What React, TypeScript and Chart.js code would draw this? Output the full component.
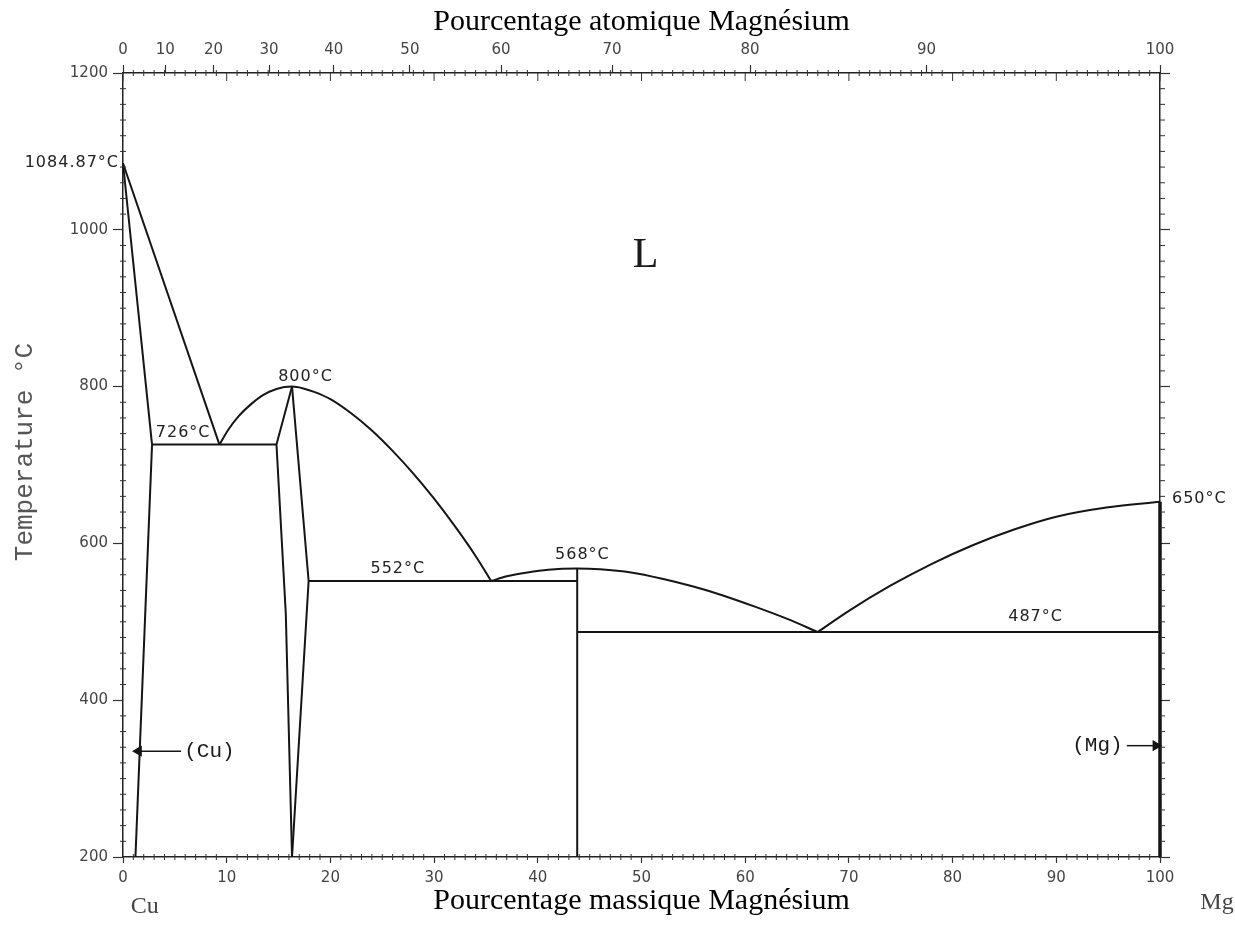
import React, { useEffect, useRef } from 'react';
import { Chart, registerables } from 'chart.js';

Chart.register(...registerables);

// ---- axes ----
const MASS_TICKS = [0, 10, 20, 30, 40, 50, 60, 70, 80, 90, 100];
const ATOMIC_TICKS = [0, 10, 20, 30, 40, 50, 60, 70, 80, 90, 100];
const TEMP_TICKS = [200, 400, 600, 800, 1000, 1200];
const MASS_MINOR_STEP = 1;
const TEMP_MINOR_STEP = 20;
const MG_ATOMIC_MASS = 24.305;
const CU_ATOMIC_MASS = 63.546;

// ---- phase boundaries: [wt% Mg, °C] ----
const cuLiquidus = [[0, 1084.87], [9.3, 726]];
const cuSolidus = [[0, 1084.87], [2.8, 726]];
const cuSolvus = [[2.8, 726], [1.2, 200]];
const eutectic726 = [[2.8, 726], [14.8, 726]];
const liquidusCu2Mg = [
  [9.3, 726], [10.2, 746], [11.2, 763], [12.3, 777], [13.5, 789], [14.8, 797], [16.3, 800],
  [17.3, 798], [18.5, 793], [20, 784], [22, 766], [24, 744], [26, 718], [28, 689],
  [30, 657], [32, 622], [34, 584], [35.5, 552],
];
const cu2MgLeft = [[16.3, 800], [14.8, 726], [15.7, 510], [16.3, 200]];
const cu2MgRight = [[16.3, 800], [17.9, 552], [16.3, 200]];
const eutectic552 = [[17.9, 552], [43.8, 552]];
const liquidusCuMg2 = [
  [35.5, 552], [37, 558], [39, 563], [41, 566.5], [43.8, 568], [46, 567], [49, 563],
  [52, 555], [55, 545], [58, 533], [61, 519], [64, 504], [67, 487],
];
const cuMg2Line = [[43.8, 568], [43.8, 200]];
const eutectic487 = [[43.8, 487], [100, 487]];
const liquidusMg = [
  [67, 487], [70, 514], [74, 546], [78, 574], [82, 598], [86, 618], [90, 634], [95, 646], [100, 653],
];
const mgSolidus = [[100, 653], [100, 200]];
const cuArrow = [[5.6, 335], [1.5, 335]];
const mgArrow = [[96.8, 342], [99.6, 342]];

// ---- annotations ----
const TEMP_LABELS = ['726°C', '800°C', '552°C', '568°C', '487°C'];
const TEMP_LABEL_X = [5.8, 17.6, 26.5, 44.3, 88.0];
const TEMP_LABEL_Y = [741, 813, 567, 586, 506];
const CU_MELT = 1084.87;
const MG_MELT_LABEL_Y = 657;
const PHASE_LABELS = ['(Cu)', '(Mg)'];
const PHASE_LABEL_X = [5.9, 96.4];
const PHASE_LABEL_Y = [335, 342];

const atomicToMass = (a: number) =>
  (100 * a * MG_ATOMIC_MASS) / (a * MG_ATOMIC_MASS + (100 - a) * CU_ATOMIC_MASS);

const toPts = (arr: number[][]) => arr.map(([x, y]) => ({ x, y }));
const LINE = '#151515';
const lineDs = (data: number[][], extra: any = {}) => ({
  data: toPts(data),
  showLine: true,
  pointRadius: 0,
  borderColor: LINE,
  backgroundColor: LINE,
  borderWidth: 2,
  tension: 0,
  clip: false,
  ...extra,
});
const curve = { cubicInterpolationMode: 'monotone' };

const decorPlugin = {
  id: 'decor',
  afterDraw(chart: any) {
    const { ctx, chartArea } = chart;
    const xs = chart.scales.x;
    const ys = chart.scales.y;
    const { left, right, top, bottom } = chartArea;
    ctx.save();
    ctx.strokeStyle = '#333';
    ctx.lineWidth = 1;
    const seg = (x1: number, y1: number, x2: number, y2: number) => {
      ctx.beginPath();
      ctx.moveTo(x1, y1);
      ctx.lineTo(x2, y2);
      ctx.stroke();
    };
    for (let v = 0; v <= 100; v += MASS_MINOR_STEP) {
      const px = xs.getPixelForValue(v);
      if (MASS_TICKS.includes(v)) {
        seg(px, top, px, top + 8);
      } else {
        seg(px, bottom - 3, px, bottom + 3);
        seg(px, top - 3, px, top + 3);
      }
    }
    for (let t = 200; t <= 1200; t += TEMP_MINOR_STEP) {
      if (TEMP_TICKS.includes(t)) continue;
      const py = ys.getPixelForValue(t);
      seg(left - 3, py, left + 3, py);
      seg(right, py, right + 5, py);
    }

    // axis title (left)
    ctx.save();
    ctx.translate(25, (top + bottom) / 2 - 13);
    ctx.rotate(-Math.PI / 2);
    ctx.font = '26px "Liberation Mono"';
    ctx.fillStyle = '#555';
    ctx.textAlign = 'center';
    ctx.textBaseline = 'middle';
    ctx.fillText('Temperature °C', 0, 0);
    ctx.restore();

    // temperature annotations
    ctx.fillStyle = '#222';
    ctx.font = '16px "DejaVu Sans"';
    (ctx as any).letterSpacing = '1px';
    ctx.textAlign = 'center';
    ctx.textBaseline = 'middle';
    TEMP_LABELS.forEach((t, i) => {
      ctx.fillText(t, xs.getPixelForValue(TEMP_LABEL_X[i]), ys.getPixelForValue(TEMP_LABEL_Y[i]));
    });
    ctx.textAlign = 'right';
    ctx.fillText('1084.87°C', left - 4, ys.getPixelForValue(CU_MELT));
    ctx.textAlign = 'left';
    ctx.fillText('650°C', right + 12, ys.getPixelForValue(MG_MELT_LABEL_Y));
    (ctx as any).letterSpacing = '0px';

    // phase labels
    ctx.font = '42px "Liberation Serif"';
    ctx.textAlign = 'center';
    ctx.fillStyle = '#1a1a1a';
    ctx.fillText('L', xs.getPixelForValue(50.4), ys.getPixelForValue(966));
    ctx.font = '21px "Liberation Mono"';
    ctx.textAlign = 'left';
    ctx.fillText(PHASE_LABELS[0], xs.getPixelForValue(PHASE_LABEL_X[0]), ys.getPixelForValue(PHASE_LABEL_Y[0]));
    ctx.textAlign = 'right';
    ctx.fillText(PHASE_LABELS[1], xs.getPixelForValue(PHASE_LABEL_X[1]), ys.getPixelForValue(PHASE_LABEL_Y[1]));

    // element labels
    ctx.font = '24px "Liberation Serif"';
    ctx.fillStyle = '#444';
    ctx.textAlign = 'center';
    ctx.fillText('Cu', xs.getPixelForValue(2.1), bottom + 50);
    ctx.fillText('Mg', xs.getPixelForValue(105.5), bottom + 46);
    ctx.restore();
  },
};

export default function App() {
  const ref = useRef<HTMLCanvasElement>(null);
  useEffect(() => {
    if (!ref.current) return;
    const tickFont = { family: '"DejaVu Sans"', size: 15 };
    const plain = (v: any) => String(v);
    const chart = new Chart(ref.current, {
      type: 'scatter',
      data: {
        datasets: [
          lineDs(cuLiquidus),
          lineDs(cuSolidus),
          lineDs(cuSolvus),
          lineDs(eutectic726),
          lineDs(liquidusCu2Mg, curve),
          lineDs(cu2MgLeft),
          lineDs(cu2MgRight),
          lineDs(eutectic552),
          lineDs(liquidusCuMg2, curve),
          lineDs(cuMg2Line),
          lineDs(eutectic487),
          lineDs(liquidusMg, curve),
          lineDs(mgSolidus, { borderWidth: 3.5 }),
          lineDs(cuArrow, { borderWidth: 1.5, pointRadius: [0, 5], pointStyle: 'triangle', pointRotation: 270 }),
          lineDs(mgArrow, { borderWidth: 1.5, pointRadius: [0, 5], pointStyle: 'triangle', pointRotation: 90 }),
        ] as any,
      },
      options: {
        animation: false,
        responsive: false,
        layout: { padding: 0 },
        plugins: { legend: { display: false }, tooltip: { enabled: false } },
        scales: {
          x: {
            type: 'linear',
            position: 'bottom',
            min: 0,
            max: 100,
            afterBuildTicks: (s: any) => { s.ticks = MASS_TICKS.map((v) => ({ value: v })); },
            afterFit: (s: any) => { s.height = 69; },
            ticks: { font: tickFont, color: '#444', padding: 6, maxRotation: 0, autoSkip: false, callback: plain },
            grid: { drawOnChartArea: false, tickLength: 6, color: '#333', tickWidth: 1.2 },
            border: { color: '#222', width: 1.5 },
            title: {
              display: true,
              text: 'Pourcentage massique Magnésium',
              color: '#000',
              font: { family: '"Liberation Serif"', size: 30 },
              padding: { top: 0, bottom: 7 },
            },
          },
          xTop: {
            type: 'linear',
            position: 'top',
            min: 0,
            max: 100,
            afterBuildTicks: (s: any) => { s.ticks = ATOMIC_TICKS.map((a) => ({ value: atomicToMass(a) })); },
            afterFit: (s: any) => { s.height = 73; },
            ticks: {
              font: tickFont,
              color: '#444',
              padding: 6,
              maxRotation: 0,
              autoSkip: false,
              callback: (_v: any, i: number) => String(ATOMIC_TICKS[i]),
            },
            grid: { drawOnChartArea: false, tickLength: 8, color: '#333', tickWidth: 1.2 },
            border: { color: '#222', width: 1.5 },
            title: {
              display: true,
              text: 'Pourcentage atomique Magnésium',
              color: '#000',
              font: { family: '"Liberation Serif"', size: 30 },
              padding: { top: 4, bottom: 0 },
            },
          },
          y: {
            type: 'linear',
            position: 'left',
            min: 200,
            max: 1200,
            afterBuildTicks: (s: any) => { s.ticks = TEMP_TICKS.map((v) => ({ value: v })); },
            afterFit: (s: any) => { s.width = 123; },
            ticks: { font: tickFont, color: '#444', padding: 5, callback: plain },
            grid: { drawOnChartArea: false, tickLength: 10, color: '#333', tickWidth: 1.2 },
            border: { color: '#222', width: 1.5 },
          },
          y2: {
            type: 'linear',
            position: 'right',
            min: 200,
            max: 1200,
            afterBuildTicks: (s: any) => { s.ticks = TEMP_TICKS.map((v) => ({ value: v })); },
            afterFit: (s: any) => { s.width = 75; },
            ticks: { callback: () => '' },
            grid: { drawOnChartArea: false, tickLength: 10, color: '#333', tickWidth: 1.2 },
            border: { color: '#222', width: 1.5 },
          },
        },
      } as any,
      plugins: [decorPlugin],
    });
    return () => chart.destroy();
  }, []);
  return (
    <div style={{ position: 'fixed', left: 0, top: 0, width: 1235, height: 926, background: '#fff' }}>
      <canvas ref={ref} width={1235} height={926} style={{ display: 'block' }} />
    </div>
  );
}
